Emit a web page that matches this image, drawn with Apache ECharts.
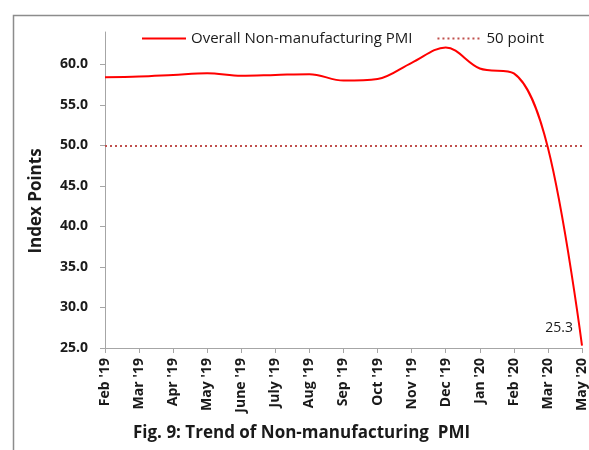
<!DOCTYPE html>
<html>
<head>
<meta charset="utf-8">
<script src="https://cdn.jsdelivr.net/npm/echarts@6/dist/echarts.min.js"></script>
<style>
  html, body { margin: 0; padding: 0; background: #fff; }
  #chart { width: 589px; height: 450px; }
</style>
</head>
<body>
<div id="chart"></div>
<script>
// 데이터 — 그림에서 읽은 값
const months = ["Feb '19", "Mar '19", "Apr '19", "May '19", "June '19", "July '19", "Aug '19",
  "Sep '19", "Oct '19", "Nov '19", "Dec '19", "Jan '20", "Feb '20", "Mar '20", "May '20"];
const pmi = [58.4, 58.5, 58.7, 58.9, 58.6, 58.7, 58.8, 58.0, 58.2, 60.2, 62.1, 59.5, 58.9, 49.7, 25.3];
const threshold = 50;
const yTicks = { min: 25, max: 64, step: 5 };

const FONT = '"Open Sans", Lato, sans-serif';
const AXIS = "#a6a6a6";
const INK = "#1a1a1a";

const chart = echarts.init(document.getElementById("chart"), null, { renderer: "canvas" });
chart.setOption({
  animation: false,
  textStyle: { fontFamily: FONT, color: INK },
  grid: { left: 105, right: 5, top: 32, bottom: 102 },
  legend: {
    top: 26,
    left: 136,
    itemWidth: 44,
    itemHeight: 10,
    itemGap: 24,
    itemStyle: { opacity: 0 },
    textStyle: { fontSize: 15, fontFamily: FONT, color: INK },
    data: ["Overall Non-manufacturing PMI", "50 point"],
  },
  xAxis: {
    type: "category",
    data: months,
    boundaryGap: false,
    axisLine: { lineStyle: { color: AXIS, width: 1 } },
    axisTick: { alignWithLabel: true, length: 5, lineStyle: { color: AXIS } },
    axisLabel: { rotate: 90, interval: 0, fontSize: 14, fontWeight: "bold", color: INK, margin: 10 },
    splitLine: { show: false },
  },
  yAxis: {
    type: "value",
    min: yTicks.min,
    max: yTicks.max,
    interval: yTicks.step,
    name: "Index Points",
    nameLocation: "middle",
    nameGap: 60,
    nameTextStyle: { fontSize: 17, fontWeight: "bold", color: INK, fontFamily: FONT, padding: [0, 22, 0, 0] },
    axisLine: { show: true, lineStyle: { color: AXIS, width: 1 } },
    axisTick: { show: true, length: 5, lineStyle: { color: AXIS } },
    axisLabel: {
      fontSize: 14, fontWeight: "bold", color: INK, margin: 17, showMaxLabel: false,
      formatter: (v) => v.toFixed(1),
    },
    splitLine: { show: false },
  },
  series: [
    {
      name: "Overall Non-manufacturing PMI",
      type: "line",
      data: pmi,
      smooth: 0.35,
      symbol: "none",
      color: "#ff0000",
      lineStyle: { color: "#ff0000", width: 2 },
      markPoint: {
        symbol: "circle",
        symbolSize: 0,
        label: {
          show: true, position: "left", offset: [-4, -18],
          fontSize: 14, color: INK, fontFamily: FONT,
          formatter: (p) => p.value.toFixed(1),
        },
        data: [{ coord: [months.length - 1, pmi[pmi.length - 1]], value: pmi[pmi.length - 1] }],
      },
    },
    {
      name: "50 point",
      type: "line",
      data: [],
      symbol: "none",
      color: "#c0504d",
      lineStyle: { color: "#c0504d", width: 2, type: [2, 3] },
      markLine: {
        silent: true,
        symbol: "none",
        label: { show: false },
        lineStyle: { color: "#c0504d", width: 2, type: [2, 3] },
        data: [{ yAxis: threshold }],
      },
    },
  ],
  graphic: [
    {
      type: "polyline",
      shape: { points: [[13.5, 460], [13.5, 15.5], [600, 15.5]] },
      style: { stroke: "#8c8c8c", lineWidth: 1.5, fill: null },
    },
    {
      type: "text",
      left: 133,
      top: 425,
      style: {
        text: "Fig. 9: Trend of Non-manufacturing  PMI",
        font: 'bold 17px "Open Sans", Lato, sans-serif',
        fill: INK,
      },
    },
  ],
});
</script>
</body>
</html>
